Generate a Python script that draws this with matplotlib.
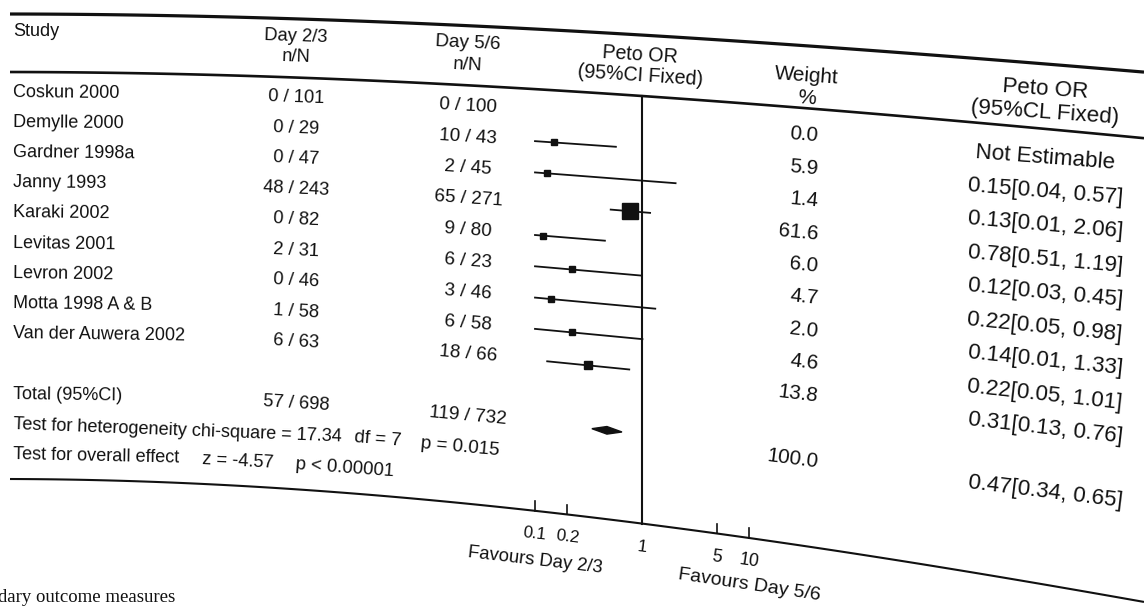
import numpy as np
import matplotlib
matplotlib.use('Agg')
import matplotlib.pyplot as plt
import matplotlib.transforms as mtransforms
from matplotlib.patches import Polygon

# table data
studies = ['Coskun 2000', 'Demylle 2000', 'Gardner 1998a', 'Janny 1993', 'Karaki 2002',
           'Levitas 2001', 'Levron 2002', 'Motta 1998 A & B', 'Van der Auwera 2002']
day23 = ['0 / 101', '0 / 29', '0 / 47', '48 / 243', '0 / 82', '2 / 31', '0 / 46', '1 / 58', '6 / 63']
day56 = ['0 / 100', '10 / 43', '2 / 45', '65 / 271', '9 / 80', '6 / 23', '3 / 46', '6 / 58', '18 / 66']
weights = [0.0, 5.9, 1.4, 61.6, 6.0, 4.7, 2.0, 4.6, 13.8]
or_est = [np.nan, 0.15, 0.13, 0.78, 0.12, 0.22, 0.14, 0.22, 0.31]
or_lo = [np.nan, 0.04, 0.01, 0.51, 0.03, 0.05, 0.01, 0.05, 0.13]
or_hi = [np.nan, 0.57, 2.06, 1.19, 0.45, 0.98, 1.33, 1.01, 0.76]
total_23 = '57 / 698'
total_56 = '119 / 732'
total_w = 100.0
total_or = [0.47, 0.34, 0.65]
tick_vals = [0.1, 0.2, 1, 5, 10]
tick_lbls = ['0.1', '0.2', '1', '5', '10']

W, H = 1144, 608
ink = '#111111'
plt.rcParams['font.family'] = ['Liberation Sans', 'DejaVu Sans']


# the scanned page is curled: things drop further down the more right and lower they are
def drop(x):
    return -8.7e-5 * x + 5.99e-5 * x ** 2 - 1.349e-8 * x ** 3


def drop_slope(x):
    return -8.7e-5 + 2 * 5.99e-5 * x - 3 * 1.349e-8 * x ** 2


def bend(x, y):
    return drop(x) * (1 + 0.0024 * (y - 14))


def tilt(x, y):
    s = drop_slope(x) * (1 + 0.0024 * (y - 14)) * np.interp(x, [0, 750, 1144], [1, 1, 0.72])
    return -np.degrees(np.arctan(s))


def grow(x):
    return 1 + 2.2e-7 * x ** 2


class PageCurl(mtransforms.Transform):
    input_dims = 2
    output_dims = 2
    is_separable = False
    has_inverse = False

    def transform_non_affine(self, values):
        v = np.array(values, dtype=float, copy=True)
        v[..., 1] -= bend(v[..., 0], H - v[..., 1])
        return v


curl = PageCurl()

fig = plt.figure(figsize=(W / 100, H / 100), dpi=100)
fig.patch.set_facecolor('white')
lay = fig.add_axes([0, 0, 1, 1])
lay.set_xlim(0, W)
lay.set_ylim(H, 0)
lay.axis('off')
lt = lay.transData + curl


def put(x, y, s, ha='left', size=13, cx=None, **kw):
    c = x if cx is None else cx
    lay.text(x, y, s, ha=ha, va='center', rotation=tilt(c, y), rotation_mode='anchor',
             fontsize=size * grow(c), color=ink, transform=lt, clip_on=False, **kw)


def rule(y, lw):
    xs = np.linspace(10, W, 120)
    lay.plot(xs, np.full_like(xs, y), color=ink, lw=lw, transform=lt, clip_on=False,
             solid_capstyle='butt')


y0, step = 92, 30.2
wdy, rdy = 5, 6   # weight and right-hand columns sit a little lower on the page
rule(14, 2.3)
rule(72, 1.9)
rule(479, 1.5)

# header
put(13, 31, 'Study')
put(296, 31, 'Day 2/3', ha='center')
put(296, 52, 'n/N', ha='center')
put(468, 31, 'Day 5/6', ha='center')
put(468, 52, 'n/N', ha='center')
put(640, 33, 'Peto OR', ha='center')
put(640, 53, '(95%CI Fixed)', ha='center')
put(807, 42, 'Weight', ha='center')
put(807, 63, '%', ha='center')
put(1045, 31 + rdy, 'Peto OR', ha='center')
put(1045, 52 + rdy, '(95%CL Fixed)', ha='center')

# rows
for i, name in enumerate(studies):
    y = y0 + step * i
    put(13, y, name, cx=70)
    put(296, y, day23[i], ha='center')
    put(468, y, day56[i], ha='center')
    put(818, y + wdy, f'{weights[i]:.1f}', ha='right', cx=800)
    if np.isnan(or_est[i]):
        txt = 'Not Estimable'
    else:
        txt = f'{or_est[i]:.2f}[{or_lo[i]:.2f}, {or_hi[i]:.2f}]'
    put(1045, y + rdy, txt, ha='center')

tr = len(studies) + 1
yt = y0 + step * tr
put(13, yt, 'Total (95%CI)', cx=60)
put(296, yt, total_23, ha='center')
put(468, yt, total_56, ha='center')
put(818, yt + wdy, f'{total_w:.1f}', ha='right', cx=795)
put(1045, yt + 2, f'{total_or[0]:.2f}[{total_or[1]:.2f}, {total_or[2]:.2f}]', ha='center')

yh = y0 + step * (tr + 1)
put(13, yh, 'Test for heterogeneity chi-square = 17.34', cx=170)
put(354, yh, 'df = 7', cx=375)
put(421, yh, 'p = 0.015', cx=455)
yo = y0 + step * (tr + 2)
put(13, yo, 'Test for overall effect', cx=90)
put(202, yo, 'z = -4.57', cx=230)
put(296, yo, 'p < 0.00001', cx=335)

lay.text(-2, 602, 'dary outcome measures', ha='left', va='baseline', fontsize=13.5,
         color=ink, family=['Liberation Serif', 'DejaVu Serif'], transform=lt, clip_on=False)


# forest panel: log odds ratio axis, rows in table units
def row(ypix):
    return (ypix - y0) / step


fa = fig.add_axes([535 / W, (H - 479) / H, 214 / W, (479 - 72) / H])
fa.set_xscale('log')
fa.set_xlim(0.1, 10)
fa.set_ylim(row(479), row(72))
fa.axis('off')
ft = fa.transData + curl
lo_lim, hi_lim = fa.get_xlim()

fa.plot([1, 1], [row(72), row(479)], color=ink, lw=1.5, transform=ft, clip_on=False)
for i in range(len(studies)):
    if np.isnan(or_est[i]):
        continue
    fa.plot([max(or_lo[i], lo_lim), min(or_hi[i], hi_lim)], [i, i], color=ink, lw=1.3,
            transform=ft, clip_on=False)
    side = max(5.5, 1.95 * np.sqrt(weights[i]))
    fa.plot([or_est[i]], [i], marker='s', ms=side * 0.72, color=ink, mec=ink,
            transform=ft, clip_on=False)

dh = 0.12
fa.add_patch(Polygon([(total_or[1], tr), (total_or[0], tr - dh), (total_or[2], tr),
                      (total_or[0], tr + dh)], closed=True, color=ink, transform=ft,
                     clip_on=False))

# axis ticks sit on the bottom rule
for t in tick_vals:
    if t != 1:
        fa.plot([t, t], [row(479), row(470)], color=ink, lw=1.2, transform=ft, clip_on=False)

bt = mtransforms.blended_transform_factory(fa.transData, lay.transData) + curl
for t, s in zip(tick_vals, tick_lbls):
    px = fa.transData.transform((t, 0))[0]
    fa.text(t, 501, s, ha='center', va='center', rotation=tilt(px, 501),
            rotation_mode='anchor', fontsize=11.5 * grow(px), color=ink,
            transform=bt, clip_on=False)
for t, s, yl in [(0.1, 'Favours Day 2/3', 527), (10, 'Favours Day 5/6', 523)]:
    px = fa.transData.transform((t, 0))[0]
    fa.text(t, yl, s, ha='center', va='center', rotation=tilt(px, yl),
            rotation_mode='anchor', fontsize=12.5 * grow(px), color=ink,
            transform=bt, clip_on=False)

fig.savefig('out.png', dpi=100)
